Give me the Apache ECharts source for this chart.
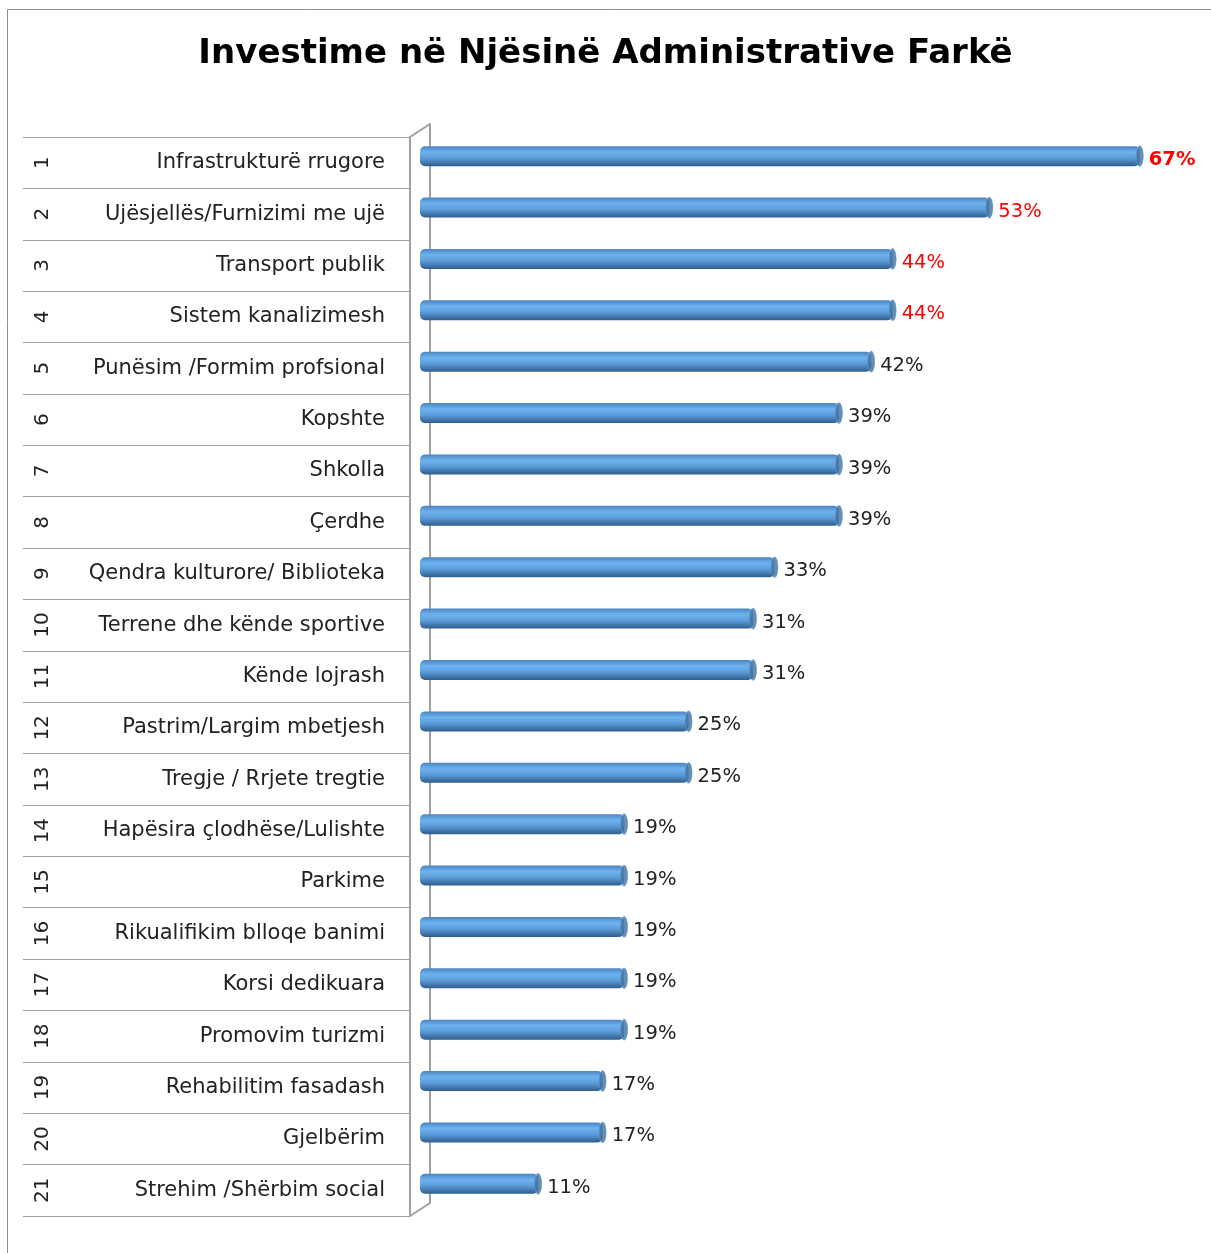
<!DOCTYPE html>
<html>
<head>
<meta charset="utf-8">
<script src="https://cdn.jsdelivr.net/npm/echarts@6/dist/echarts.min.js"></script>
<style>
  html, body { margin: 0; padding: 0; background: #fff; }
  #chart { width: 1211px; height: 1253px; }
</style>
</head>
<body>
<div id="chart"></div>
<script>
  // data
  const ranks = ['1','2','3','4','5','6','7','8','9','10','11','12','13','14','15','16','17','18','19','20','21'];
  const categories = [
    'Infrastrukturë rrugore', 'Ujësjellës/Furnizimi me ujë', 'Transport publik',
    'Sistem kanalizimesh', 'Punësim /Formim profsional', 'Kopshte', 'Shkolla',
    'Çerdhe', 'Qendra kulturore/ Biblioteka', 'Terrene dhe kënde sportive',
    'Kënde lojrash', 'Pastrim/Largim mbetjesh', 'Tregje / Rrjete tregtie',
    'Hapësira çlodhëse/Lulishte', 'Parkime', 'Rikualifikim blloqe banimi',
    'Korsi dedikuara', 'Promovim turizmi', 'Rehabilitim fasadash', 'Gjelbërim',
    'Strehim /Shërbim social'
  ];
  const values = [67, 53, 44, 44, 42, 39, 39, 39, 33, 31, 31, 25, 25, 19, 19, 19, 19, 19, 17, 17, 11];

  const font = '"DejaVu Sans", "Open Sans", sans-serif';
  const gray = '#a0a0a0';

  // front plane / back wall geometry (3D depth offset)
  const frontLeft = 410, frontTop = 137, plotH = 1079;
  const depthX = 20, depthY = 13;

  let chart = echarts.init(document.getElementById('chart'));

  let barData = values.map(function (v, i) {
    return {
      value: v,
      label: {
        color: i < 4 ? '#ff0000' : '#222',
        fontWeight: i === 0 ? 'bold' : 'normal'
      }
    };
  });

  chart.setOption({
    animation: false,
    title: {
      text: 'Investime në Njësinë Administrative Farkë',
      left: 'center',
      top: 32,
      textStyle: { fontFamily: font, fontSize: 34, fontWeight: 'bold', color: '#000' }
    },
    grid: [
      { left: frontLeft, top: frontTop, height: plotH, right: 40 },
      { left: frontLeft + depthX / 2, top: frontTop - depthY / 2, height: plotH, width: 752 },
      { left: frontLeft + depthX, top: frontTop - depthY, height: plotH, right: 40 }
    ],
    xAxis: [
      { gridIndex: 0, type: 'value', show: false },
      { gridIndex: 1, type: 'value', min: 0, max: 70, show: false },
      { gridIndex: 2, type: 'value', show: false }
    ],
    yAxis: [
      {
        gridIndex: 0, type: 'category', inverse: true, data: categories,
        axisLine: { show: true, lineStyle: { color: gray, width: 2 } },
        axisTick: { show: true, length: 387, lineStyle: { color: gray, width: 1 } },
        axisLabel: {
          interval: 0, margin: 25, padding: [4, 0, 0, 0],
          fontFamily: font, fontSize: 21, color: '#222'
        }
      },
      {
        gridIndex: 0, type: 'category', inverse: true, data: ranks, position: 'left',
        axisLine: { show: false }, axisTick: { show: false },
        axisLabel: {
          interval: 0, margin: 367, rotate: 90, align: 'center', verticalAlign: 'middle',
          fontFamily: font, fontSize: 20, color: '#222'
        }
      },
      { gridIndex: 1, type: 'category', inverse: true, data: categories, show: false },
      {
        gridIndex: 2, type: 'category', inverse: true, data: categories,
        axisLine: { show: true, lineStyle: { color: gray, width: 2 } },
        axisTick: { show: false }, axisLabel: { show: false }
      }
    ],
    graphic: [
      {
        type: 'rect', silent: true,
        shape: { x: 7.5, y: 9.5, width: 1400, height: 1400 },
        style: { fill: 'none', stroke: '#8c8c8c', lineWidth: 1 }
      },
      {
        type: 'line', silent: true,
        shape: { x1: frontLeft, y1: frontTop, x2: frontLeft + depthX, y2: frontTop - depthY },
        style: { stroke: gray, lineWidth: 2 }
      },
      {
        type: 'line', silent: true,
        shape: { x1: frontLeft, y1: frontTop + plotH, x2: frontLeft + depthX, y2: frontTop + plotH - depthY },
        style: { stroke: gray, lineWidth: 2 }
      }
    ],
    series: [
      {
        type: 'bar', xAxisIndex: 1, yAxisIndex: 2, data: barData, barWidth: 20,
        itemStyle: {
          borderRadius: 5,
          color: new echarts.graphic.LinearGradient(0, 0, 0, 1, [
            { offset: 0, color: '#4c84c0' },
            { offset: 0.3, color: '#6db3ef' },
            { offset: 0.6, color: '#5b9cd9' },
            { offset: 1, color: '#2f5d8c' }
          ])
        },
        label: {
          show: true, position: 'right', distance: 9, offset: [0, 4],
          formatter: '{c}%', fontFamily: font, fontSize: 19.5
        }
      },
      {
        type: 'scatter', xAxisIndex: 1, yAxisIndex: 2, data: values,
        symbol: 'circle', symbolSize: [7, 20], z: 3,
        itemStyle: { color: '#40709f', borderColor: '#5f93c6', borderWidth: 1 }
      }
    ]
  });
</script>
</body>
</html>
